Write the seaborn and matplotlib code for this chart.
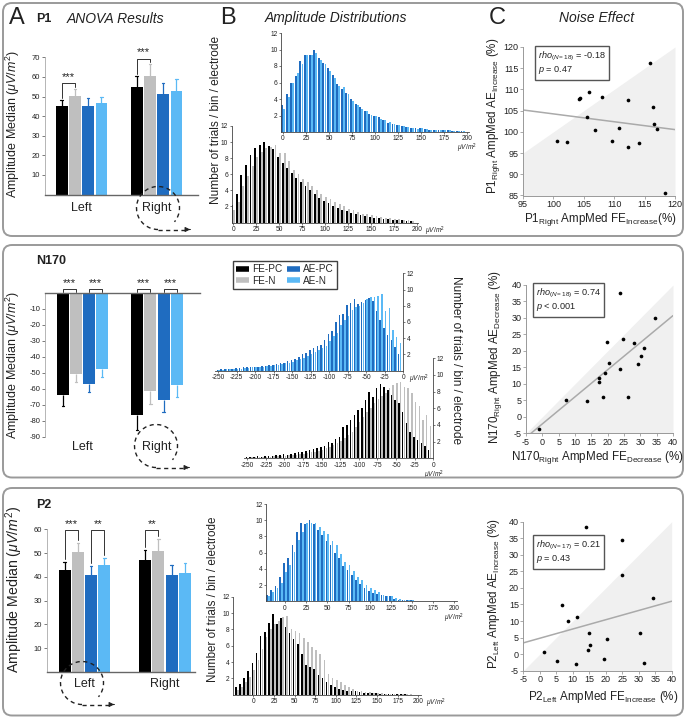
import matplotlib
matplotlib.use("Agg")
import matplotlib.pyplot as plt
import numpy as np
import pandas as pd
import seaborn as sns
from matplotlib.patches import FancyBboxPatch, Arc
from matplotlib.lines import Line2D
from matplotlib.colors import to_hex

sns.set_style("white")
plt.rcParams["font.family"] = ["Liberation Sans", "DejaVu Sans"]
plt.rcParams["mathtext.fontset"] = "custom"
plt.rcParams["mathtext.rm"] = "Liberation Sans"
plt.rcParams["mathtext.it"] = "Liberation Sans:italic"
plt.rcParams["mathtext.bf"] = "Liberation Sans:bold"
plt.rcParams["mathtext.sf"] = "Liberation Sans"
plt.rcParams["axes.unicode_minus"] = False

# ------------------------------------------------------------------ data
conditions = ["FE-PC", "FE-N", "AE-PC", "AE-N"]
hemispheres = ["Left", "Right"]
cond_colors = ["#000000", "#bfbfbf", "#1f6cc0", "#5bb9f5"]

# Panel A: amplitude medians (Left, Right) and one-sided errors
p1_left = [45.2, 50.3, 45.3, 46.5]
p1_right = [55.0, 60.4, 51.3, 53.0]
p1_left_err = [3.0, 3.4, 3.8, 3.4]
p1_right_err = [5.4, 6.2, 5.7, 5.8]

n170_left = [-63.7, -50.5, -57.2, -47.8]
n170_right = [-76.2, -61.4, -67.2, -57.4]
n170_left_err = [7.1, 5.2, 4.8, 4.8]
n170_right_err = [9.4, 8.3, 7.3, 7.7]

p2_left = [42.9, 50.3, 40.8, 44.8]
p2_right = [46.9, 51.0, 40.6, 41.7]
p2_left_err = [3.5, 3.8, 3.7, 3.2]
p2_right_err = [4.4, 4.9, 4.2, 4.0]

# significance: (hemisphere index, cond i, cond j, bracket level, stars)
p1_sig = [(0, 0, 1, 56.7, "***"), (1, 0, 1, 69.3, "***")]
n170_sig = [(0, 0, 1, 2.5, "***"), (0, 2, 3, 2.5, "***"),
            (1, 0, 1, 2.5, "***"), (1, 2, 3, 2.5, "***")]
p2_sig = [(0, 0, 1, 59.6, "***"), (0, 2, 3, 59.6, "**"), (1, 0, 1, 59.6, "**")]

# Panel B: amplitude distributions (trials / bin / electrode)
p1_bins = list(range(0, 200, 5))
p1_fe_pc = [2.2, 3.5, 5.9, 7.1, 8.4, 9.3, 9.6, 10.0, 9.5, 9.2,
            8.2, 7.4, 6.8, 6.1, 5.5, 5.0, 4.5, 4.0, 3.5, 3.1,
            2.7, 2.4, 2.1, 1.8, 1.6, 1.4, 1.2, 1.0, 0.9, 0.8,
            0.7, 0.6, 0.5, 0.45, 0.4, 0.35, 0.3, 0.25, 0.2, 0.15]
p1_fe_n = [1.5, 2.6, 4.5, 5.8, 7.0, 8.2, 8.8, 9.3, 9.4, 9.6,
           8.6, 8.6, 7.6, 6.5, 6.0, 5.4, 5.0, 4.5, 4.0, 3.6,
           3.2, 2.9, 2.6, 2.3, 2.0, 1.7, 1.5, 1.3, 1.1, 1.0,
           0.9, 0.8, 0.7, 0.6, 0.5, 0.45, 0.4, 0.3, 0.25, 0.2]
p1_ae_pc = [3.3, 4.6, 6.0, 6.8, 8.6, 9.3, 9.3, 10.0, 9.0, 8.4,
            7.8, 6.9, 5.8, 5.2, 4.7, 4.0, 3.4, 3.0, 2.6, 2.2,
            2.0, 1.8, 1.4, 1.1, 1.0, 0.9, 0.7, 0.6, 0.5, 0.5,
            0.5, 0.4, 0.3, 0.3, 0.25, 0.2, 0.2, 0.15, 0.1, 0.1]
p1_ae_n = [2.8, 4.3, 6.0, 7.2, 8.3, 9.3, 9.3, 9.6, 8.7, 8.2,
           7.4, 6.5, 5.6, 5.5, 4.6, 3.8, 3.3, 2.8, 2.6, 2.1,
           2.0, 1.6, 1.4, 1.2, 1.0, 0.8, 0.7, 0.6, 0.5, 0.4,
           0.5, 0.4, 0.3, 0.3, 0.25, 0.2, 0.2, 0.15, 0.1, 0.1]

n170_bins = list(range(-250, 0, 5))
n170_ae_pc = [0.1, 0.15, 0.2, 0.2, 0.25, 0.3, 0.3, 0.45, 0.4, 0.45,
              0.5, 0.5, 0.55, 0.6, 0.7, 0.75, 0.8, 0.9, 1.0, 1.2,
              1.3, 1.5, 1.7, 2.0, 2.2, 2.5, 2.8, 3.0, 3.2, 3.8,
              4.5, 4.9, 6.0, 6.9, 7.0, 8.1, 8.3, 8.8, 8.2, 8.5,
              8.7, 9.0, 8.6, 7.4, 6.2, 5.3, 4.4, 3.8, 2.9, 2.1]
n170_ae_n = [0.05, 0.1, 0.15, 0.15, 0.2, 0.25, 0.25, 0.35, 0.35, 0.4,
             0.45, 0.45, 0.5, 0.55, 0.6, 0.65, 0.7, 0.8, 0.9, 1.0,
             1.1, 1.3, 1.4, 1.6, 1.8, 2.0, 2.3, 2.5, 2.8, 3.0,
             3.7, 4.3, 4.7, 5.6, 6.3, 6.8, 7.5, 7.8, 8.0, 8.4,
             8.8, 9.1, 9.1, 9.2, 9.4, 7.3, 7.7, 5.0, 4.2, 3.4]
n170_fe_pc = [0.1, 0.15, 0.2, 0.25, 0.2, 0.25, 0.3, 0.3, 0.35, 0.4,
              0.5, 0.45, 0.55, 0.6, 0.7, 0.8, 0.9, 0.95, 1.1, 1.2,
              1.3, 1.5, 2.0, 1.8, 2.3, 2.5, 3.8, 4.0, 4.6, 5.2,
              5.8, 6.0, 7.0, 7.9, 7.4, 8.4, 8.9, 8.5, 8.2, 7.6,
              7.0, 6.6, 5.6, 4.2, 3.2, 2.6, 2.2, 1.8, 1.5, 1.0]
n170_fe_n = [0.05, 0.1, 0.1, 0.15, 0.15, 0.2, 0.2, 0.25, 0.25, 0.3,
             0.3, 0.35, 0.4, 0.4, 0.5, 0.55, 0.6, 0.7, 0.8, 0.9,
             1.0, 1.2, 1.4, 1.6, 1.8, 2.1, 2.4, 2.8, 3.2, 3.8,
             4.3, 4.9, 5.6, 6.0, 6.6, 7.1, 7.5, 7.8, 8.4, 8.8,
             9.0, 9.2, 8.5, 8.4, 7.8, 6.7, 6.3, 4.6, 5.2, 3.9]

p2_bins = list(range(-20, 200, 5))
p2_ae_pc = [0.8, 1.4, 1.9, 3.0, 4.7, 5.3, 7.0, 8.6, 9.7, 9.5,
            10.0, 9.5, 8.8, 8.2, 7.4, 7.0, 6.0, 5.3, 4.4, 3.8,
            3.2, 2.6, 2.1, 1.7, 1.3, 1.0, 0.9, 0.8, 0.6, 0.6,
            0.25, 0.2, 0.15, 0.1, 0.1, 0.05, 0.05, 0.05, 0.05, 0.04,
            0.03, 0.03, 0.02, 0.02]
p2_ae_n = [0.7, 1.2, 1.6, 2.3, 3.6, 4.5, 6.1, 7.6, 8.6, 9.6,
           9.6, 9.7, 9.2, 8.7, 8.3, 7.4, 6.9, 5.8, 4.9, 4.5,
           3.7, 3.0, 2.6, 2.0, 1.7, 1.4, 1.1, 0.8, 0.7, 0.6,
           0.35, 0.25, 0.2, 0.15, 0.1, 0.08, 0.06, 0.05, 0.05, 0.04,
           0.03, 0.03, 0.02, 0.02]
p2_fe_pc = [1.0, 1.3, 2.0, 2.9, 3.9, 5.1, 7.2, 7.7, 8.8, 9.9,
            8.7, 9.4, 8.3, 7.5, 6.8, 6.2, 5.0, 3.6, 3.4, 3.2,
            2.4, 2.0, 1.6, 1.2, 0.9, 0.7, 0.6, 0.5, 0.4, 0.4,
            0.3, 0.25, 0.2, 0.15, 0.15, 0.1, 0.1, 0.05, 0.05, 0.04,
            0.03, 0.03, 0.02, 0.02]
p2_fe_n = [0.6, 0.9, 1.6, 2.2, 3.0, 4.3, 5.6, 7.1, 8.0, 8.7,
           9.0, 9.5, 9.6, 8.0, 7.8, 7.5, 7.0, 6.5, 5.8, 5.5,
           5.0, 4.2, 2.5, 2.0, 1.8, 1.6, 1.2, 0.9, 0.7, 0.5,
           0.4, 0.3, 0.3, 0.2, 0.2, 0.15, 0.1, 0.1, 0.08, 0.06,
           0.05, 0.04, 0.03, 0.02]

# Panel C: noise effect per subject (%)
p1_fe_increase = [100.55, 102.25, 104.29, 104.4, 105.82, 105.49, 106.87, 108.02, 109.67,
                  110.82, 112.25, 112.31, 114.07, 115.88, 116.43, 116.54, 117.09, 118.35]
p1_ae_increase = [97.96, 97.5, 107.77, 108.0, 109.33, 103.4, 100.37, 108.33, 97.96,
                  101.0, 107.45, 96.34, 97.35, 116.18, 105.75, 101.84, 100.67, 85.5]
n170_fe_decrease = [-0.9, 7.3, 13.6, 17.3, 17.4, 18.5, 19.2, 19.8, 20.3,
                    23.8, 23.8, 24.6, 26.1, 28.2, 29.2, 30.2, 31.0, 34.5]
n170_ae_decrease = [-3.55, 5.1, 4.7, 10.5, 11.75, 5.9, 13.35, 22.7, 16.2,
                    37.7, 14.5, 23.6, 6.0, 22.5, 16.1, 18.6, 21.0, 30.1]
p2_fe_increase = [1.4, 5.1, 6.8, 8.7, 10.9, 11.4, 14.0, 14.9, 14.6,
                  15.3, 19.6, 20.3, 25.0, 25.0, 30.4, 31.6, 34.3]
p2_ae_increase = [0.5, -2.0, 14.9, 10.0, -3.1, 11.1, 38.5, 6.5, 1.2,
                  2.8, -1.5, 4.7, 34.4, 23.9, 6.3, -2.8, 17.1]

stats_text = [r"$\mathit{rho}_{(N=18)}$ = -0.18" + "\n" + r"$\mathit{p}$ = 0.47",
              r"$\mathit{rho}_{(N=18)}$ = 0.74" + "\n" + r"$\mathit{p}$ < 0.001",
              r"$\mathit{rho}_{(N=17)}$ = 0.21" + "\n" + r"$\mathit{p}$ = 0.43"]

# ------------------------------------------------------------------ figure
W, H = 686, 720
fig = plt.figure(figsize=(W / 100, H / 100), dpi=100)
TXT = "#222222"


def add_ax(l, t, r, b):
    ax = fig.add_axes([l / W, 1 - b / H, (r - l) / W, (b - t) / H])
    ax.set_facecolor("none")
    return ax


def bar_panel(box, xlim, ylim, yticks, lv, rv, le, re, sig, width, xpad, neg=False):
    ax = add_ax(*box)
    df = pd.DataFrame({"hemisphere": [h for h in hemispheres for _ in conditions],
                       "condition": conditions * 2,
                       "amplitude": lv + rv})
    sns.barplot(data=df, x="hemisphere", y="amplitude", hue="condition",
                order=hemispheres, hue_order=conditions, palette=cond_colors,
                saturation=1, width=width, gap=0.1, errorbar=None, legend=False,
                linewidth=0, ax=ax)
    errs = [le, re]
    hexes = [to_hex(c) for c in cond_colors]
    tops = {}
    for p in list(ax.patches):
        cx = p.get_x() + p.get_width() / 2
        hi = int(round(cx))
        ci = hexes.index(to_hex(p.get_facecolor()))
        v = p.get_height()
        e = errs[hi][ci]
        end = v + e if v > 0 else v - e
        ax.plot([cx, cx], [v, end], color=cond_colors[ci], lw=0.9,
                solid_capstyle="butt", clip_on=False)
        ax.plot([cx - 0.015, cx + 0.015], [end, end], color=cond_colors[ci], lw=0.9,
                clip_on=False)
        tops[(hi, ci)] = (cx, end if v > 0 else 0.0)
    gap = 0.8 if neg else 1.2
    for hi, i, j, level, txt in sig:
        xi, ti = tops[(hi, i)]
        xj, tj = tops[(hi, j)]
        ax.plot([xi, xi, xj, xj], [ti + gap, level, level, tj + gap], color="#333333",
                lw=0.7, clip_on=False)
        ax.annotate(txt, xy=((xi + xj) / 2, level), xytext=(0, 1.0),
                    textcoords="offset points", ha="center", va="bottom",
                    fontsize=8, color=TXT, annotation_clip=False)
    ax.set_xlim(*xlim)
    ax.set_ylim(*ylim)
    ax.set_yticks(yticks)
    ax.set_xlabel("")
    ax.set_ylabel("")
    for s in ["top", "right", "bottom", "left"]:
        ax.spines[s].set_visible(False)
    ax.spines["left"].set_visible(True)
    ax.spines["left"].set_color("#aaaaaa")
    ax.spines["left"].set_linewidth(0.6)
    axis_sp = "top" if neg else "bottom"
    ax.spines[axis_sp].set_visible(True)
    ax.spines[axis_sp].set_color("#666666")
    ax.spines[axis_sp].set_linewidth(1.0)
    ax.tick_params(axis="y", labelsize=5.5, length=2, width=0.6, color="#666666",
                   pad=1.5, labelcolor=TXT, left=True)
    ax.tick_params(axis="x", labelsize=9, length=0, pad=xpad, labelcolor=TXT,
                   bottom=True, top=False, labelbottom=True)
    return ax


def hist_panel(box, bins, a, b, names, colors, xlim, xticks, yside="left"):
    ax = add_ax(*box)
    df = pd.DataFrame({"amplitude_bin": bins + bins,
                       "trials": a + b,
                       "condition": [names[0]] * len(bins) + [names[1]] * len(bins)})
    sns.barplot(data=df, x="amplitude_bin", y="trials", hue="condition",
                hue_order=names, palette=colors, native_scale=True, orient="x",
                width=0.92, gap=0.12, saturation=1, errorbar=None, legend=False,
                linewidth=0, ax=ax)
    ax.set_xlim(*xlim)
    ax.set_ylim(0, 12)
    ax.set_yticks([2, 4, 6, 8, 10, 12])
    ax.set_xticks(xticks)
    ax.set_xticklabels([str(t) for t in xticks])
    ax.set_xlabel("")
    ax.set_ylabel("")
    for s in ["top", "right", "left", "bottom"]:
        ax.spines[s].set_visible(False)
    for s in [yside, "bottom"]:
        ax.spines[s].set_visible(True)
        ax.spines[s].set_color("#444444")
        ax.spines[s].set_linewidth(0.6)
    ax.tick_params(axis="both", labelsize=4.8, length=1.5, width=0.5, pad=1,
                   color="#444444", labelcolor=TXT)
    if yside == "right":
        ax.tick_params(axis="y", left=False, labelleft=False, right=True, labelright=True)
    else:
        ax.tick_params(axis="y", left=True, labelleft=True)
    ax.tick_params(axis="x", bottom=True)
    return ax


def unit_label(ax, x, dx, dy, ha):
    ax.annotate(r"$\mu V/m^2$", xy=(x, 0), xytext=(dx, dy), textcoords="offset pixels",
                ha=ha, va="top", fontsize=4.8, color=TXT, annotation_clip=False)


def scatter_panel(box, xs, ys, lo, hi, ticks_x, ticks_y):
    ax = add_ax(*box)
    ax.fill_between([lo[0], hi[0]], [lo[0], hi[0]], lo[1], color="#f0f0f0", lw=0, zorder=0)
    ax.set_xlim(lo[0], hi[0])
    ax.set_ylim(lo[1], hi[1])
    sns.regplot(x=np.array(xs), y=np.array(ys), scatter=False, ci=None, truncate=False,
                color="#aaaaaa", line_kws={"lw": 1.1}, ax=ax)
    sns.scatterplot(x=xs, y=ys, color="black", s=7, linewidth=0, ax=ax, zorder=3)
    ax.set_xlim(lo[0], hi[0])
    ax.set_ylim(lo[1], hi[1])
    ax.set_xticks(ticks_x)
    ax.set_yticks(ticks_y)
    ax.set_xlabel("")
    ax.set_ylabel("")
    for s in ["top", "right"]:
        ax.spines[s].set_visible(False)
    for s in ["left", "bottom"]:
        ax.spines[s].set_color("#999999")
        ax.spines[s].set_linewidth(0.7)
    ax.tick_params(axis="both", labelsize=6.5, length=2, width=0.5, pad=1.2,
                   color="#888888", labelcolor=TXT, left=True, bottom=True)
    return ax


# ---- Row 1 : P1
bar_panel((45, 57.3, 198, 194.6), (-0.487, 1.553), (0, 70), range(10, 80, 10),
          p1_left, p1_right, p1_left_err, p1_right_err, p1_sig, 0.71, 5)
ax = hist_panel((281, 33, 469, 132), p1_bins, p1_ae_pc, p1_ae_n, ["AE-PC", "AE-N"],
                cond_colors[2:], (-2.2, 202), list(range(0, 201, 25)))
unit_label(ax, 200, 0, -10, "center")
ax = hist_panel((231.7, 126, 418.5, 222.5), p1_bins, p1_fe_pc, p1_fe_n, ["FE-PC", "FE-N"],
                cond_colors[:2], (-1.6, 202), list(range(0, 201, 25)))
unit_label(ax, 200, 8, -2.5, "left")
scatter_panel((523, 47, 675, 195.5), p1_fe_increase, p1_ae_increase, (95, 85), (120, 120),
              range(95, 121, 5), range(85, 121, 5))

# ---- Row 2 : N170
bar_panel((45, 293, 200, 436.7), (-0.503, 1.577), (-90, 0), range(-90, 0, 10),
          n170_left, n170_right, n170_left_err, n170_right_err, n170_sig, 0.71, 3, neg=True)
ax = hist_panel((215.3, 273.3, 403.3, 370.7), n170_bins, n170_ae_pc, n170_ae_n, ["AE-PC", "AE-N"],
                cond_colors[2:], (-254, 0), list(range(-250, 1, 25)), yside="right")
unit_label(ax, 0, 6, -2.5, "left")
ax = hist_panel((244.3, 358.3, 433.3, 458.3), n170_bins, n170_fe_pc, n170_fe_n, ["FE-PC", "FE-N"],
                cond_colors[:2], (-254, 0), list(range(-250, 1, 25)), yside="right")
unit_label(ax, 0, 1, -10, "center")
scatter_panel((526, 285, 673, 433.3), n170_fe_decrease, n170_ae_decrease, (-5, -5), (40, 40),
              range(-5, 41, 5), range(-5, 41, 5))

# ---- Row 3 : P2
bar_panel((47, 529.3, 195, 672), (-0.466, 1.373), (0, 60), range(10, 70, 10),
          p2_left, p2_right, p2_left_err, p2_right_err, p2_sig, 0.66, 4)
ax = hist_panel((266, 504, 457, 601.3), p2_bins, p2_ae_pc, p2_ae_n, ["AE-PC", "AE-N"],
                cond_colors[2:], (-22.4, 203), list(range(0, 201, 25)))
unit_label(ax, 200, 0, -10, "center")
ax = hist_panel((233, 596.7, 420.8, 694.7), p2_bins, p2_fe_pc, p2_fe_n, ["FE-PC", "FE-N"],
                cond_colors[:2], (-24.6, 203), list(range(0, 201, 25)))
unit_label(ax, 200, 8, -2.5, "left")
scatter_panel((523.3, 521.7, 671.7, 670.7), p2_fe_increase, p2_ae_increase, (-5, -5), (40, 40),
              range(-5, 41, 5), range(-5, 41, 5))

# ------------------------------------------------------------------ overlay (pixel coords)
ov = fig.add_axes([0, 0, 1, 1], facecolor="none")
ov.set_xlim(0, W)
ov.set_ylim(H, 0)
ov.axis("off")

for (t, b) in [(3, 236), (245, 477.5), (488, 715.5)]:
    ov.add_patch(FancyBboxPatch((3, t), 680, b - t, boxstyle="round,pad=0,rounding_size=9",
                                fc="none", ec="#9a9a9a", lw=1.4))

ov.text(17, 18, "A", fontsize=17, ha="center", va="center", color=TXT)
ov.text(228, 18, "B", fontsize=17, ha="center", va="center", color=TXT)
ov.text(497, 18, "C", fontsize=17, ha="center", va="center", color=TXT)
ov.text(36, 19, "P1", fontsize=9, fontweight="bold", ha="left", va="center", color=TXT)
ov.text(36, 261, "N170", fontsize=9, fontweight="bold", ha="left", va="center", color=TXT)
ov.text(36, 505, "P2", fontsize=9, fontweight="bold", ha="left", va="center", color=TXT)
ov.text(115, 19, "ANOVA Results", fontsize=10, style="italic", ha="center", va="center", color=TXT)
ov.text(336, 18, "Amplitude Distributions", fontsize=10, style="italic", ha="center",
        va="center", color=TXT)
ov.text(597, 18, "Noise Effect", fontsize=10, style="italic", ha="center", va="center", color=TXT)

amp_label = r"Amplitude Median $\mathit{(\mu V/m^2)}$"
ov.text(13, 124, amp_label, fontsize=9, rotation=90, ha="center", va="center", color=TXT)
ov.text(13, 365, amp_label, fontsize=9, rotation=90, ha="center", va="center", color=TXT)
ov.text(14, 589, amp_label, fontsize=10.2, rotation=90, ha="center", va="center", color=TXT)

trials_label = "Number of trials / bin / electrode"
ov.text(216, 120, trials_label, fontsize=8.6, rotation=90, ha="center", va="center", color=TXT)
ov.text(456, 360, trials_label, fontsize=8.6, rotation=270, ha="center", va="center", color=TXT)
ov.text(213, 599, trials_label, fontsize=8.4, rotation=90, ha="center", va="center", color=TXT)

SLF = 8.4
ov.text(493, 116, r"P1$_{\mathrm{Right}}$ AmpMed AE$_{\mathrm{Increase}}$ $\mathit{(\%)}$",
        fontsize=SLF, rotation=90, ha="center", va="center", color=TXT)
ov.text(600, 220, r"P1$_{\mathrm{Right}}$ AmpMed FE$_{\mathrm{Increase}}$$\mathit{(\%)}$",
        fontsize=SLF, ha="center", va="center", color=TXT)
ov.text(495, 357, r"N170$_{\mathrm{Right}}$ AmpMed AE$_{\mathrm{Decrease}}$ $\mathit{(\%)}$",
        fontsize=SLF, rotation=90, ha="center", va="center", color=TXT)
ov.text(598, 457, r"N170$_{\mathrm{Right}}$ AmpMed FE$_{\mathrm{Decrease}}$ $\mathit{(\%)}$",
        fontsize=SLF, ha="center", va="center", color=TXT)
ov.text(494, 593, r"P2$_{\mathrm{Left}}$ AmpMed AE$_{\mathrm{Increase}}$ $\mathit{(\%)}$",
        fontsize=SLF, rotation=90, ha="center", va="center", color=TXT)
ov.text(603, 697, r"P2$_{\mathrm{Left}}$ AmpMed FE$_{\mathrm{Increase}}$ $\mathit{(\%)}$",
        fontsize=SLF, ha="center", va="center", color=TXT)

for (x0, y0), txt in zip([(538, 50), (536, 287), (536, 539)], stats_text):
    ov.text(x0, y0, txt, fontsize=6.6, ha="left", va="top", color=TXT, linespacing=1.15,
            bbox=dict(boxstyle="square,pad=0.35", fc="white", ec="#555555", lw=1.0))

# dashed circles with arrows
for cx, cy, ax_end in [(158, 208, 193), (156, 446, 192), (82, 683, 117)]:
    r = 21.5
    ov.add_patch(Arc((cx, cy), 2 * r, 2 * r, theta1=90, theta2=400, ls=(0, (3, 2.5)),
                     lw=1.0, color="#222222"))
    ov.plot([cx, ax_end - 5], [cy + r, cy + r], ls=(0, (3, 2.5)), lw=1.0, color="#222222")
    ov.annotate("", xy=(ax_end, cy + r), xytext=(ax_end - 6, cy + r),
                arrowprops=dict(arrowstyle="-|>", color="#222222", lw=0.8, mutation_scale=7))

# legend (row 2)
handles = [Line2D([0], [0], color=c, lw=4.0, solid_capstyle="butt") for c in cond_colors]
ov.legend(handles, conditions, ncol=2, loc="upper left", bbox_to_anchor=(233, 261),
          bbox_transform=ov.transData, frameon=True, fancybox=False, edgecolor="#111111",
          fontsize=7.2, handlelength=1.3, handletextpad=0.35, columnspacing=0.4,
          borderpad=0.3, labelspacing=0.15, borderaxespad=0)

fig.savefig("out.png", dpi=100)
